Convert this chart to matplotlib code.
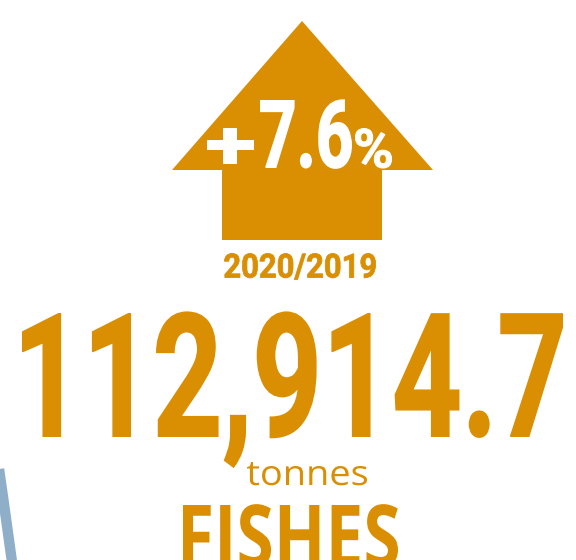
import matplotlib
matplotlib.use("Agg")
import matplotlib.pyplot as plt
from matplotlib.textpath import TextPath
from matplotlib.font_manager import FontProperties
from matplotlib.patches import PathPatch, Polygon
from matplotlib.transforms import Affine2D

# Data
category = "FISHES"
unit = "tonnes"
total_tonnes = 112914.7
change_pct = 7.6
period = "2020/2019"

ORANGE = "#DA8F03"
WHITE = "#FFFFFF"
BLUE = "#8FAFC8"

cond_bold = FontProperties(family="Roboto", weight="bold")
plain = FontProperties(family="Open Sans")
plain_bold = FontProperties(family="Open Sans", weight="bold")


def fit_text(ax, s, x0, x1, top, base, prop, color, ref=None, stroke=0.0):
    # draw text as a path squeezed into a box (pixel coords, y down)
    # stroke (px) thickens the glyphs; the box is shrunk to compensate
    h = stroke / 2
    x0, x1, top, base = x0 + h, x1 - h, top + h, base - h
    tp = TextPath((0, 0), s, size=100, prop=prop)
    ext = tp.get_extents()
    sx = (x1 - x0) / ext.width
    cap = TextPath((0, 0), ref or s[0], size=100, prop=prop).get_extents().y1
    sy = (base - top) / cap
    trans = Affine2D().translate(-ext.x0, 0).scale(sx, -sy).translate(x0, base)
    ax.add_patch(PathPatch(trans.transform_path(tp), fc=color,
                           ec=color if stroke else "none",
                           lw=stroke * 0.72, joinstyle="miter"))


fig = plt.figure(figsize=(5.76, 5.60), dpi=100)
ax = fig.add_axes([0, 0, 1, 1])
ax.set_xlim(0, 576)
ax.set_ylim(560, 0)
ax.axis("off")

# decorative arc on the left edge
ax.plot([-4, 3, 12], [448, 497, 562], color=BLUE, lw=7.5, solid_capstyle="butt")

# up arrow
arrow = [(172, 170), (302, 21), (433, 170), (382, 170), (382, 240),
         (222, 240), (222, 170)]
ax.add_patch(Polygon(arrow, closed=True, fc=ORANGE, ec="none"))

# change label inside the arrow
fit_text(ax, "+", 206, 253, 127, 168, cond_bold, WHITE, ref="+", stroke=1)
fit_text(ax, f"{change_pct}", 260, 352, 100, 168, cond_bold, WHITE, ref="7", stroke=1.5)
fit_text(ax, "%", 355, 392, 128, 168, cond_bold, WHITE, ref="%", stroke=1)

fit_text(ax, period, 224, 376, 253, 278, cond_bold, ORANGE, ref="2", stroke=0.8)

fit_text(ax, f"{total_tonnes:,.1f}", 22, 563, 313, 437, cond_bold, ORANGE,
         ref="1", stroke=1.5)

fit_text(ax, unit, 247, 367, 462, 485, plain, ORANGE, ref="t")

fit_text(ax, category, 183, 398, 505, 567, plain_bold, ORANGE, ref="F")

fig.savefig("out.png", dpi=100, facecolor="white")
